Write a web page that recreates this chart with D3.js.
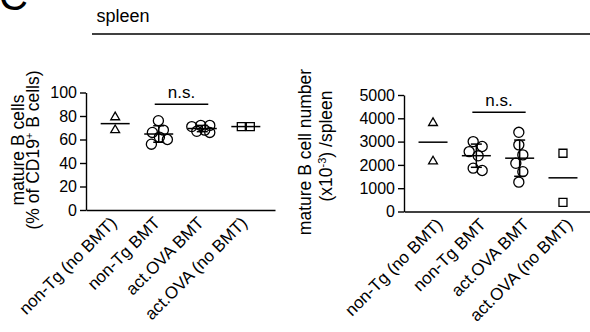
<!DOCTYPE html>
<html>
<head>
<meta charset="utf-8">
<script src="https://cdn.jsdelivr.net/npm/d3@7"></script>
<style>
  body { margin: 0; background: #fff; }
  svg { display: block; font-family: "Liberation Sans", Arial, sans-serif; }
</style>
</head>
<body>
<svg width="590" height="332"></svg>
<script>
const groups = ["non-Tg (no BMT)", "non-Tg BMT", "act.OVA BMT", "act.OVA (no BMT)"];

// % mature B cells of CD19+ B cells, one array per group
const pctMature = [
  [79, 68],
  [76, 68, 66, 62, 60, 56],
  [72, 71, 72, 68, 66, 67],
  [71, 71],
];
const pctTicks = [0, 20, 40, 60, 80, 100];
const pctSig = { from: "non-Tg BMT", to: "act.OVA BMT", value: 90, label: "n.s." };

// mature B cell number (x10^-3) per spleen
const numMature = [
  [3800, 2150],
  [2790, 3000, 2570, 2390, 1860, 1760],
  [2860, 3400, 2430, 2070, 1710, 1260],
  [2500, 390],
];
const numTicks = [0, 1000, 2000, 3000, 4000, 5000];
const numSig = { from: "non-Tg BMT", to: "act.OVA BMT", value: 4260, label: "n.s." };

const markers = [d3.symbolTriangle, d3.symbolCircle, d3.symbolCircle, d3.symbolSquare];
const markerSize = [34, 80, 80, 64];

window.onload = main;

function main() {
  const svg = d3.select("svg");

  // panel letter and header
  svg.append("text").attr("x", -1).attr("y", 9.5)
    .style("font-size", "40px").text("C");
  svg.append("text").attr("x", 96.5).attr("y", 22)
    .style("font-size", "18px").text("spleen");
  svg.append("line").attr("x1", 92).attr("x2", 590).attr("y1", 34).attr("y2", 34)
    .attr("stroke", "#000").attr("stroke-width", 1.5);

  draw_panel(svg, {
    data: pctMature, ticks: pctTicks, sig: pctSig, domain: [0, 100],
    x0: 86, x1: 275, yTop: 92.5, yBottom: 210, labelDx: 2,
    titles: [
      { parts: [["mature B cells"]], x: 23.5, y: 150 },
      { parts: [["(% of CD19"], ["+", true], [" B cells)"]], x: 38.5, y: 150 },
    ],
  });

  draw_panel(svg, {
    data: numMature, ticks: numTicks, sig: numSig, domain: [0, 5000],
    x0: 404, x1: 592, yTop: 95, yBottom: 211.5, labelDx: 10,
    titles: [
      { parts: [["mature B cell number"]], x: 311, y: 152 },
      { parts: [["(x10"], ["-3", true], [") /spleen"]], x: 332, y: 146 },
    ],
  });
}

function draw_panel(svg, opt) {
  const g = svg.append("g");
  const x = d3.scalePoint().domain(groups).range([opt.x0, opt.x1]).padding(0.67);
  const y = d3.scaleLinear().domain(opt.domain).range([opt.yBottom, opt.yTop]);

  // y axis
  const yAxis = g.append("g")
    .attr("transform", `translate(${opt.x0},0)`)
    .call(d3.axisLeft(y).tickValues(opt.ticks).tickFormat(d3.format("d"))
      .tickSize(6).tickSizeOuter(0).tickPadding(3));
  yAxis.attr("font-family", null).attr("font-size", null);
  yAxis.selectAll("text").style("font-size", "16px").attr("fill", "#000");
  yAxis.selectAll("line, path").attr("stroke", "#000").attr("stroke-width", 1.4);

  // x axis
  const xAxis = g.append("g")
    .attr("transform", `translate(0,${opt.yBottom})`)
    .call(d3.axisBottom(x).tickSize(0).tickSizeOuter(0));
  xAxis.attr("font-family", null).attr("font-size", null);
  xAxis.select(".domain").attr("stroke", "#000").attr("stroke-width", 1.4);
  xAxis.selectAll("text")
    .attr("x", 0).attr("y", 0).attr("dy", null)
    .attr("text-anchor", "end")
    .attr("transform", `translate(${opt.labelDx},14) rotate(-45)`)
    .style("font-size", "17px").attr("fill", "#000");

  // axis titles
  opt.titles.forEach((t) => {
    const txt = g.append("text")
      .attr("transform", `translate(${t.x},${t.y}) rotate(-90)`)
      .attr("text-anchor", "middle")
      .style("font-size", "17.5px");
    t.parts.forEach(([s, sup]) => {
      const sp = txt.append("tspan").text(s);
      if (sup) sp.attr("baseline-shift", "super").style("font-size", "11px");
    });
  });

  // points, means and SD bars
  opt.data.forEach((vals, gi) => {
    const cx = x(groups[gi]);
    const offs = swarm(vals, y, 10.5, 9);
    const sym = d3.symbol().type(markers[gi]).size(markerSize[gi]);

    g.append("g").selectAll("path")
      .data(vals)
      .enter()
      .append("path")
      .attr("d", sym)
      .attr("transform", (d, i) => `translate(${cx + offs[i]},${y(d)})`)
      .attr("fill", "none")
      .attr("stroke", "#000")
      .attr("stroke-width", 1.3);

    const m = d3.mean(vals);
    line(g, cx - 14.5, cx + 14.5, y(m), y(m));
    if (vals.length > 2) {
      const sd = d3.deviation(vals);
      line(g, cx, cx, y(m - sd), y(m + sd));
      line(g, cx - 5.5, cx + 5.5, y(m + sd), y(m + sd));
      line(g, cx - 5.5, cx + 5.5, y(m - sd), y(m - sd));
    }
  });

  // significance bracket
  const s = opt.sig;
  const bx0 = x(s.from) - 4, bx1 = x(s.to) + 6;
  line(g, bx0, bx1, y(s.value), y(s.value));
  g.append("text")
    .attr("x", (bx0 + bx1) / 2)
    .attr("y", y(s.value) - 6.5)
    .attr("text-anchor", "middle")
    .style("font-size", "17px")
    .text(s.label);
}

function line(g, x1, x2, y1, y2) {
  g.append("line")
    .attr("x1", x1).attr("x2", x2).attr("y1", y1).attr("y2", y2)
    .attr("stroke", "#000").attr("stroke-width", 1.5);
}

// simple beeswarm within a limited width: take the nearest free spot,
// or the least crowded one when the column is full
function swarm(values, y, minDist, maxW) {
  const placed = [];
  const offs = new Array(values.length).fill(0);
  const cands = [0];
  for (let k = 1; k <= maxW; k++) cands.push(k, -k);
  values
    .map((v, i) => ({ i, py: y(v) }))
    .sort((a, b) => a.py - b.py)
    .forEach((p) => {
      let best = 0, bestGap = -1;
      for (const c of cands) {
        const gap = d3.min(placed, (q) => Math.hypot(q.dx - c, q.py - p.py)) ?? Infinity;
        if (gap >= minDist) { best = c; break; }
        if (gap > bestGap) { bestGap = gap; best = c; }
      }
      p.dx = best;
      placed.push(p);
      offs[p.i] = best;
    });
  const mid = d3.mean(offs);
  return offs.map((o) => o - mid);
}
</script>
</body>
</html>
